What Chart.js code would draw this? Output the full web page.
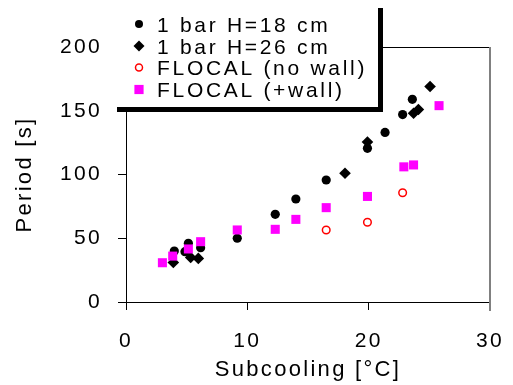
<!DOCTYPE html>
<html>
<head>
<meta charset="utf-8">
<script src="https://cdn.jsdelivr.net/npm/chart.js@4/dist/chart.umd.min.js"></script>
<style>
  html, body { margin: 0; padding: 0; background: #fff; }
  #wrap { width: 513px; height: 385px; }
</style>
</head>
<body>
<div id="wrap"><canvas id="c" width="513" height="385"></canvas></div>
<script>
// ---- data ----
const seriesNames = ["1 bar H=18 cm", "1 bar H=26 cm", "FLOCAL (no wall)", "FLOCAL (+wall)"];

const h18X = [3.98, 4.86, 5.14, 6.15, 9.17, 12.3, 14.0, 16.5, 19.9, 21.35, 22.8, 23.6];
const h18Y = [40, 39.5, 46, 42.6, 50, 68.8, 80.8, 95.7, 120.5, 133, 147, 159];

const h26X = [3.9, 5.33, 5.96, 18.05, 19.9, 23.7, 24.1, 25.06];
const h26Y = [31, 35, 34.2, 101, 125.5, 148, 151, 169];

const noWallX = [16.5, 19.9, 22.8];
const noWallY = [56.5, 62.5, 85.7];

const wallX = [3.0, 3.85, 5.14, 6.15, 9.17, 12.3, 14.0, 16.5, 19.9, 22.9, 23.7, 25.8];
const wallY = [30.8, 36, 41.6, 47.3, 56.5, 57, 64.8, 74, 82.8, 106, 107.5, 154];

const xTicks = [0, 10, 20, 30];
const yTicks = [0, 50, 100, 150, 200];

const xTitle = "Subcooling [°C]";
const yTitle = "Period [s]";

function pts(xs, ys) { return xs.map((x, i) => ({ x: x, y: ys[i] })); }

const FONT = '"Liberation Sans", Arial, Helvetica, sans-serif';

const spacingPlugin = {
  id: 'spacing',
  beforeUpdate(chart) { chart.ctx.letterSpacing = '2.3px'; },
  beforeDraw(chart) { chart.ctx.letterSpacing = '2.3px'; }
};

const framePlugin = {
  id: 'frame',
  afterDraw(chart) {
    const ctx = chart.ctx;
    const a = chart.chartArea;
    ctx.save();
    ctx.strokeStyle = '#000';
    ctx.lineWidth = 1;
    ctx.beginPath();
    ctx.moveTo(a.left, Math.round(a.top) + 0.5);
    ctx.lineTo(a.right, Math.round(a.top) + 0.5);
    ctx.stroke();
    ctx.strokeStyle = '#808080';
    ctx.lineWidth = 2;
    ctx.beginPath();
    ctx.moveTo(Math.round(a.right), a.top);
    ctx.lineTo(Math.round(a.right), a.bottom + 9);
    ctx.stroke();
    ctx.restore();
  }
};

const legendPlugin = {
  id: 'boxLegend',
  afterDraw(chart) {
    const ctx = chart.ctx;
    ctx.save();
    ctx.fillStyle = '#fff';
    ctx.fillRect(117, 0, 266, 108);
    ctx.fillStyle = '#000';
    ctx.fillRect(378, 8, 5, 104);
    ctx.fillRect(117, 107, 266, 5);

    const rowY = [24, 46, 67.5, 89.5];
    const mx = 139, tx = 157;
    ctx.font = '21px ' + FONT;
    ctx.letterSpacing = '2.7px';
    ctx.textBaseline = 'alphabetic';
    ctx.textAlign = 'left';
    chart.data.datasets.forEach((ds, i) => {
      const y = rowY[i];
      ctx.beginPath();
      if (ds.pointStyle === 'circle') {
        ctx.arc(mx, y, ds.legendR, 0, Math.PI * 2);
      } else if (ds.pointStyle === 'rectRot') {
        const r = ds.legendR;
        ctx.moveTo(mx - r, y); ctx.lineTo(mx, y - r); ctx.lineTo(mx + r, y); ctx.lineTo(mx, y + r); ctx.closePath();
      } else {
        const s = ds.legendR;
        ctx.rect(mx - s, y - s, 2 * s, 2 * s);
      }
      if (ds.backgroundColor !== 'rgba(0,0,0,0)') { ctx.fillStyle = ds.backgroundColor; ctx.fill(); }
      if (ds.pointBorderWidth > 0 && ds.backgroundColor === 'rgba(0,0,0,0)') {
        ctx.strokeStyle = ds.borderColor; ctx.lineWidth = ds.pointBorderWidth; ctx.stroke();
      }
      ctx.fillStyle = '#000';
      ctx.fillText(ds.label, tx, y + 7.5);
    });
    ctx.restore();
  }
};

new Chart(document.getElementById('c'), {
  type: 'scatter',
  data: {
    datasets: [
      { label: seriesNames[0], data: pts(h18X, h18Y), pointStyle: 'circle', pointRadius: 4.6,
        backgroundColor: '#000', borderColor: '#000', pointBorderWidth: 0, legendR: 4, order: 3 },
      { label: seriesNames[1], data: pts(h26X, h26Y), pointStyle: 'rectRot', pointRadius: 5.8,
        backgroundColor: '#000', borderColor: '#000', pointBorderWidth: 0, legendR: 5.5, order: 4 },
      { label: seriesNames[2], data: pts(noWallX, noWallY), pointStyle: 'circle', pointRadius: 3.8,
        backgroundColor: 'rgba(0,0,0,0)', borderColor: '#ff0000', pointBorderWidth: 1.5, legendR: 3.5, order: 2 },
      { label: seriesNames[3], data: pts(wallX, wallY), pointStyle: 'rect', pointRadius: 6.4,
        backgroundColor: '#ff00ff', borderColor: '#ff00ff', pointBorderWidth: 0, legendR: 4.6, order: 1 }
    ]
  },
  options: {
    responsive: false,
    animation: false,
    events: [],
    layout: { padding: { left: 8, right: 23, top: 47, bottom: 0 } },
    plugins: { legend: { display: false }, tooltip: { enabled: false }, title: { display: false } },
    scales: {
      x: {
        type: 'linear', min: 0, max: 30,
        afterBuildTicks(scale) { scale.ticks = xTicks.map(v => ({ value: v })); },
        afterFit(scale) { scale.height = 83; scale.paddingLeft = 0; scale.paddingRight = 0; },
        ticks: { color: '#000', font: { family: FONT, size: 21 }, padding: 19, maxRotation: 0 },
        grid: { drawOnChartArea: false, drawTicks: true, tickLength: 8,
                tickColor: c => (c.tick && c.tick.value === 30) ? '#808080' : '#000', tickWidth: 1 },
        border: { display: true, color: '#000', width: 1 },
        title: { display: true, text: xTitle, color: '#000', font: { family: FONT, size: 22 }, padding: { top: 4, bottom: 2 } }
      },
      y: {
        type: 'linear', min: 0, max: 200,
        afterBuildTicks(scale) { scale.ticks = yTicks.map(v => ({ value: v })); },
        afterFit(scale) { scale.width = 118; scale.paddingTop = 0; scale.paddingBottom = 0; },
        ticks: { color: '#000', font: { family: FONT, size: 21 }, padding: 16 },
        grid: { drawOnChartArea: false, drawTicks: true, tickLength: 8, tickColor: '#000', tickWidth: 1 },
        border: { display: true, color: '#000', width: 1 },
        title: { display: true, text: yTitle, color: '#000', font: { family: FONT, size: 22 }, padding: 4 }
      }
    }
  },
  plugins: [spacingPlugin, framePlugin, legendPlugin]
});
</script>
</body>
</html>
